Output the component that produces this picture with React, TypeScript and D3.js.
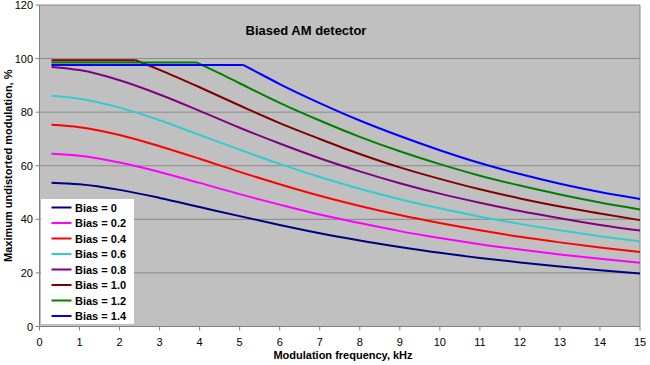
import React from "react";
import * as d3 from "d3";

const biasLabels = ["Bias = 0", "Bias = 0.2", "Bias = 0.4", "Bias = 0.6", "Bias = 0.8", "Bias = 1.0", "Bias = 1.2", "Bias = 1.4"];
const colors = ["#000080", "#ff00ff", "#ff0000", "#33cccc", "#800080", "#800000", "#008000", "#0000ff"];

const freqStd = [0.3, 1, 2, 3, 4, 5, 6, 7, 8, 9, 10, 11, 12, 13, 14, 15];
const bias0 = [53.7, 53.1, 51.0, 48.0, 44.6, 41.2, 37.9, 34.8, 32.1, 29.7, 27.5, 25.6, 23.9, 22.4, 21.0, 19.8];
const bias02 = [64.5, 63.7, 61.2, 57.7, 53.6, 49.4, 45.5, 41.8, 38.6, 35.6, 33.0, 30.7, 28.7, 26.9, 25.3, 23.8];
const bias04 = [75.3, 74.4, 71.5, 67.3, 62.6, 57.7, 53.1, 48.8, 45.0, 41.6, 38.6, 35.9, 33.5, 31.4, 29.5, 27.8];
const bias06 = [86.1, 85.0, 81.7, 77.0, 71.5, 66.0, 60.7, 55.8, 51.4, 47.5, 44.1, 41.0, 38.3, 35.9, 33.7, 31.8];
const bias08 = [96.9, 95.7, 91.9, 86.6, 80.5, 74.2, 68.3, 62.8, 57.9, 53.5, 49.6, 46.2, 43.1, 40.4, 37.9, 35.8];

const freq10 = [0.3, 2.4, 3, 4, 5, 6, 7, 8, 9, 10, 11, 12, 13, 14, 15];
const bias10 = [99.4, 99.4, 95.8, 89.3, 82.5, 75.9, 70.0, 64.4, 59.4, 55.1, 51.2, 47.8, 44.8, 42.2, 39.7];
const freq12 = [0.3, 3.93, 4.5, 5, 6, 7, 8, 9, 10, 11, 12, 13, 14, 15];
const bias12 = [98.5, 98.5, 94.5, 90.8, 83.5, 76.9, 70.8, 65.4, 60.6, 56.3, 52.6, 49.3, 46.3, 43.7];
const freq14 = [0.3, 5.1, 5.5, 6, 7, 8, 9, 10, 11, 12, 13, 14, 15];
const bias14 = [97.6, 97.6, 94.4, 90.5, 83.4, 76.9, 71.1, 65.8, 61.0, 56.9, 53.3, 50.2, 47.6];

const seriesX = [freqStd, freqStd, freqStd, freqStd, freqStd, freq10, freq12, freq14];
const seriesY = [bias0, bias02, bias04, bias06, bias08, bias10, bias12, bias14];

const xTicks = d3.range(0, 16, 1);
const yTicks = [0, 20, 40, 60, 80, 100, 120];

const W = 650, H = 365;
const L = 39.5, R = 640, T = 5, B = 326.5;

export default function App() {
  const x = d3.scaleLinear().domain([0, 15]).range([L, R]);
  const y = d3.scaleLinear().domain([0, 120]).range([B, T]);
  const curveLine = d3.line<[number, number]>().x(d => x(d[0])).y(d => y(d[1])).curve(d3.curveMonotoneX);
  const flatLine = d3.line<[number, number]>().x(d => x(d[0])).y(d => y(d[1]));
  const font = "Arial, 'Liberation Sans', sans-serif";
  const legX = 41, legY = 199, legW = 93, legH = 125;

  const paths = seriesY.map((ys, i) => {
    const pts = ys.map((v, j) => [seriesX[i][j], v] as [number, number]);
    let k = 0;
    while (k + 1 < pts.length && pts[k + 1][1] === pts[0][1]) k++;
    if (k === 0) return [curveLine(pts) || ""];
    return [flatLine(pts.slice(0, k + 1)) || "", curveLine(pts.slice(k)) || ""];
  });

  return (
    <svg width={W} height={H} style={{ position: "fixed", left: 0, top: 0, background: "#fff" }} fontFamily={font}>
      <rect x={L} y={T} width={R - L} height={B - T} fill="#c0c0c0" />
      {yTicks.map(t => (
        <line key={"g" + t} x1={L} x2={R} y1={y(t)} y2={y(t)} stroke="#8a8a8a" strokeWidth={1} />
      ))}
      <line x1={R} x2={R} y1={T} y2={B} stroke="#8a8a8a" strokeWidth={1} />
      <line x1={L} x2={L} y1={T} y2={B} stroke="#808080" strokeWidth={1} />
      <line x1={L} x2={R} y1={B} y2={B} stroke="#808080" strokeWidth={1} />
      {yTicks.map(t => (
        <g key={"y" + t}>
          <line x1={L - 4} x2={L} y1={y(t)} y2={y(t)} stroke="#808080" />
          <text x={33} y={y(t) + 4} fontSize={11} textAnchor="end" fill="#000">{t}</text>
        </g>
      ))}
      {xTicks.map(t => (
        <g key={"x" + t}>
          <line x1={x(t)} x2={x(t)} y1={B} y2={B + 4} stroke="#808080" />
          <text x={x(t)} y={345.5} fontSize={11} textAnchor="middle" fill="#000">{t}</text>
        </g>
      ))}
      {paths.map((ds, i) => (
        <g key={"s" + i}>
          {ds.map((d, j) => (
            <path key={j} d={d} fill="none" stroke={colors[i]} strokeWidth={2} strokeLinejoin="round" />
          ))}
        </g>
      ))}
      <text x={306} y={35} fontSize={13} fontWeight="bold" textAnchor="middle">Biased AM detector</text>
      <text x={343} y={359} fontSize={11} fontWeight="bold" textAnchor="middle">Modulation frequency, kHz</text>
      <text transform={`translate(12,${(T + B) / 2}) rotate(-90)`} fontSize={11} fontWeight="bold" textAnchor="middle">Maximum undistorted modulation, %</text>
      <rect x={legX} y={legY} width={legW} height={legH} fill="#fff" />
      {biasLabels.map((lab, i) => {
        const ly = 207.5 + i * 15.5;
        return (
          <g key={"l" + i}>
            <line x1={51.5} x2={71.5} y1={ly} y2={ly} stroke={colors[i]} strokeWidth={2} />
            <text x={75} y={ly + 4} fontSize={11} fontWeight="bold">{lab}</text>
          </g>
        );
      })}
    </svg>
  );
}
